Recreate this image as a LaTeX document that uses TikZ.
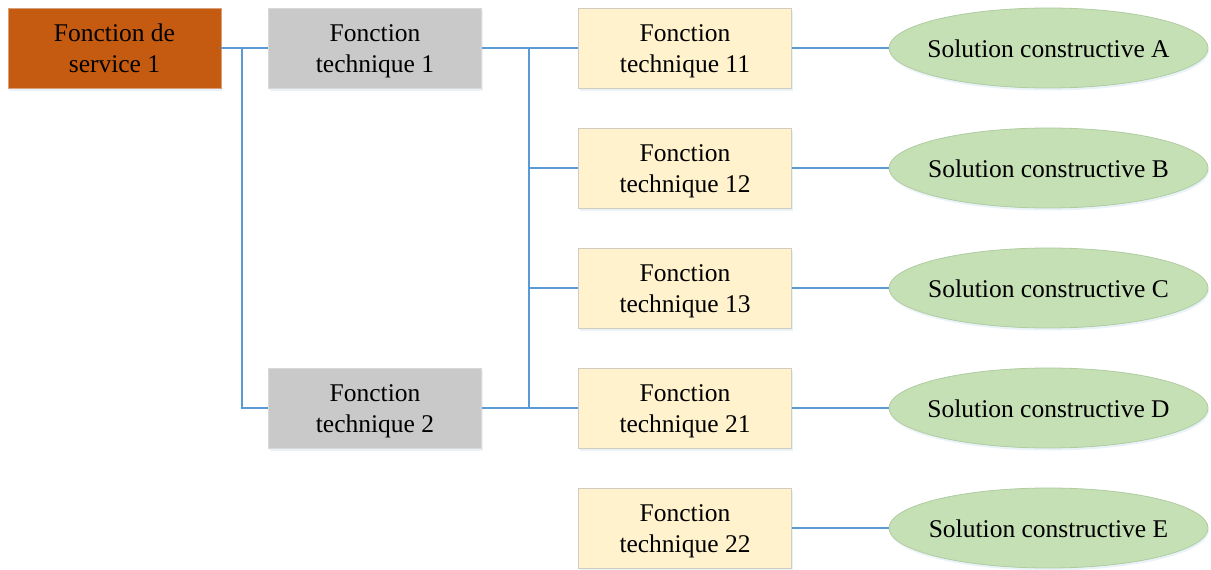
\documentclass[tikz,border=0pt]{standalone}
\usepackage{fontspec}
\setmainfont{Liberation Serif}
\usetikzlibrary{shapes.geometric,shadows}
\definecolor{svc}{HTML}{C55A11}
\definecolor{svcb}{HTML}{D8A07A}
\definecolor{tg}{HTML}{C9C9C9}
\definecolor{tgb}{HTML}{D9D9D9}
\definecolor{ty}{HTML}{FFF2CC}
\definecolor{tyb}{HTML}{D0CCC0}
\definecolor{sg}{HTML}{C5E0B4}
\definecolor{sgb}{HTML}{B0CCA0}
\definecolor{ln}{HTML}{5B9BD5}
\newcommand{\topstrut}{\rule{0pt}{24.7pt}}
\newcommand{\botstrut}{\rule[-6.3pt]{0pt}{6.3pt}}
\newcommand{\twolines}[2]{\topstrut#1\\#2\botstrut}
\newcommand{\oneline}[1]{\topstrut\makebox[0pt]{#1}\botstrut}
\tikzset{
  base/.style={minimum width=213pt, minimum height=80pt, inner sep=0pt, align=center,
    font=\fontsize{25.5}{31}\selectfont, line width=0.8pt,
    drop shadow={shadow xshift=1pt, shadow yshift=-2.5pt, fill=ln!25, opacity=0.5}},
  svcbox/.style={base, rectangle, fill=svc, draw=svcb},
  grbox/.style={base, rectangle, fill=tg, draw=tgb},
  ylbox/.style={base, rectangle, fill=ty, draw=tyb},
  solnode/.style={base, ellipse, minimum width=319pt, minimum height=80pt, fill=sg, draw=sgb},
  conn/.style={draw=ln, line width=1.8pt}
}
\begin{document}
\begin{tikzpicture}[x=1pt,y=-1pt]
\useasboundingbox (0,0) rectangle (1211,570);
\node[svcbox] (fs1) at (114.5,48) {\twolines{Fonction de}{service 1}};
\node[grbox] (ft1) at (375,48) {\twolines{Fonction}{technique 1}};
\node[grbox] (ft2) at (375,408) {\twolines{Fonction}{technique 2}};
\node[ylbox] (ft11) at (685,48) {\twolines{Fonction}{technique 11}};
\node[ylbox] (ft12) at (685,168) {\twolines{Fonction}{technique 12}};
\node[ylbox] (ft13) at (685,288) {\twolines{Fonction}{technique 13}};
\node[ylbox] (ft21) at (685,408) {\twolines{Fonction}{technique 21}};
\node[ylbox] (ft22) at (685,528) {\twolines{Fonction}{technique 22}};
\node[solnode] (sa) at (1048.5,48) {\oneline{Solution constructive A}};
\node[solnode] (sb) at (1048.5,168) {\oneline{Solution constructive B}};
\node[solnode] (sc) at (1048.5,288) {\oneline{Solution constructive C}};
\node[solnode] (sd) at (1048.5,408) {\oneline{Solution constructive D}};
\node[solnode] (se) at (1048.5,528) {\oneline{Solution constructive E}};
\coordinate (j1) at (242,48);
\coordinate (j2) at (529,48);
% service -> techniques
\draw[conn] (fs1.east) -- (ft1.west);
\draw[conn] (j1) |- (ft2.west);
% technique 1 / 2 -> sub functions
\draw[conn] (ft1.east) -- (ft11.west);
\draw[conn] (j2) |- (ft12.west);
\draw[conn] (j2) |- (ft13.west);
\draw[conn] (j2) |- (ft21.west);
\draw[conn] (ft2.east) -- (ft21.west);
% sub functions -> solutions
\draw[conn] (ft11.east) -- (sa.west);
\draw[conn] (ft12.east) -- (sb.west);
\draw[conn] (ft13.east) -- (sc.west);
\draw[conn] (ft21.east) -- (sd.west);
\draw[conn] (ft22.east) -- (se.west);
\end{tikzpicture}
\end{document}
